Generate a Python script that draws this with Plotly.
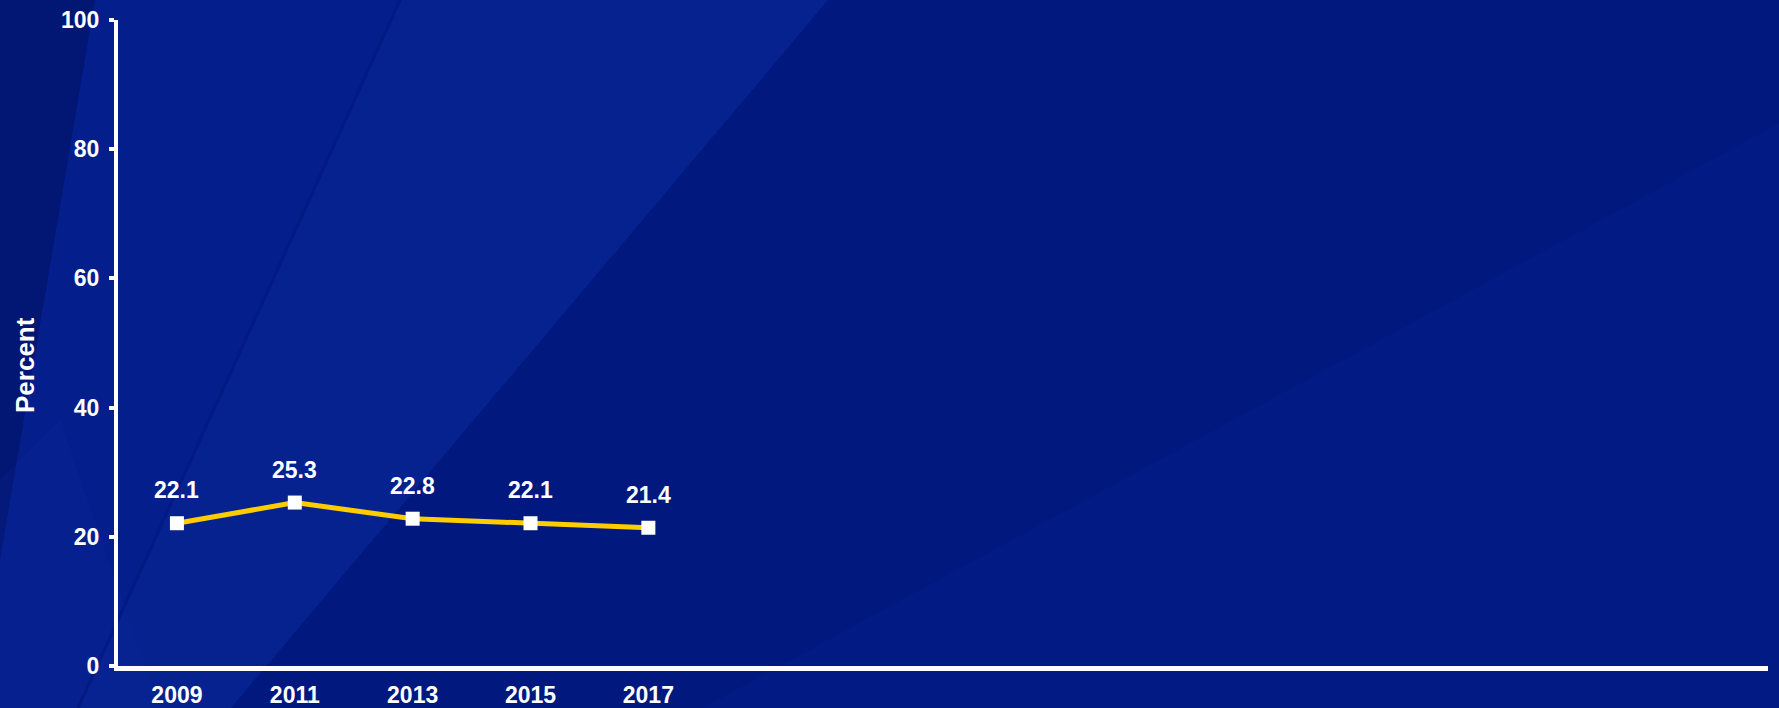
import plotly.graph_objects as go

# Survey years and the percentage reported for each
years = [2009, 2011, 2013, 2015, 2017]
percent = [22.1, 25.3, 22.8, 22.1, 21.4]

# Category slots continue to the right of the data (2 years apart)
x_range = [2008, 2036]
y_ticks = [0, 20, 40, 60, 80, 100]

W, H = 1779, 708
ML, MR, MT, MB = 118, 11, 20, 42
PW, PH = W - ML - MR, H - MT - MB


def px(x, y):
    """Pixel position on the page -> paper coordinates."""
    return (x - ML) / PW, (H - MB - y) / PH


def poly(points, color):
    pts = [px(x, y) for x, y in points]
    path = "M " + " L ".join(f"{a:.5f},{b:.5f}" for a, b in pts) + " Z"
    return dict(type="path", xref="paper", yref="paper", path=path,
                fillcolor=color, line=dict(width=0), layer="below")


def seg(p0, p1, color, width):
    (x0, y0), (x1, y1) = px(*p0), px(*p1)
    return dict(type="line", xref="paper", yref="paper", x0=x0, y0=y0,
                x1=x1, y1=y1, line=dict(color=color, width=width), layer="below")


backdrop = [
    poly([(0, 0), (95, 0), (0, 560)], "#021673"),
    poly([(95, 0), (828, 0), (231, 708), (0, 708), (0, 560)], "#041f8c"),
    poly([(400, 0), (828, 0), (231, 708), (78, 708)], "#05228f"),
    poly([(0, 480), (60, 420), (160, 708), (0, 708)], "rgba(20,50,160,0.15)"),
    poly([(702, 708), (1779, 123), (1779, 708)], "#011a84"),
    seg((400, 0), (78, 708), "#031a83", 3),
]

font = "Liberation Sans, Arial, sans-serif"

fig = go.Figure()
fig.add_trace(go.Scatter(
    x=years, y=percent, mode="lines+markers",
    line=dict(color="#FFCC00", width=5),
    marker=dict(symbol="square", size=14, color="white", line=dict(width=0)),
    hoverinfo="skip", showlegend=False,
))

for yr, v in zip(years, percent):
    fig.add_annotation(x=yr, y=v, text=f"<b>{v:.1f}</b>", showarrow=False,
                       yshift=33, font=dict(family=font, size=23, color="white"))

# Axis title, placed a little below the middle of the value axis
tx, ty = px(25, 365)
fig.add_annotation(xref="paper", yref="paper", x=tx, y=ty, text="<b>Percent</b>",
                   textangle=-90, showarrow=False, xanchor="center", yanchor="middle",
                   font=dict(family=font, size=26, color="white"))

fig.update_layout(
    width=W, height=H,
    margin=dict(l=ML, r=MR, t=MT, b=MB),
    paper_bgcolor="#01187f", plot_bgcolor="rgba(0,0,0,0)",
    shapes=backdrop,
    font=dict(family=font, color="white"),
)
fig.update_xaxes(
    range=x_range, tickvals=years, ticktext=[f"<b>{y}</b>" for y in years],
    showgrid=False, zeroline=False, showline=True, linecolor="white", linewidth=5,
    ticks="", tickfont=dict(family=font, size=23, color="white"),
    ticklabelstandoff=4, automargin=False,
)
fig.update_yaxes(
    range=[0, 100], tickvals=y_ticks, ticktext=[f"<b>{t}</b>" for t in y_ticks],
    showgrid=False, zeroline=False, showline=True, linecolor="white", linewidth=4,
    ticks="outside", ticklen=5, tickwidth=4, tickcolor="white",
    tickfont=dict(family=font, size=23, color="white"),
    ticklabelstandoff=5, automargin=False,
)

fig.write_html("out.html")
